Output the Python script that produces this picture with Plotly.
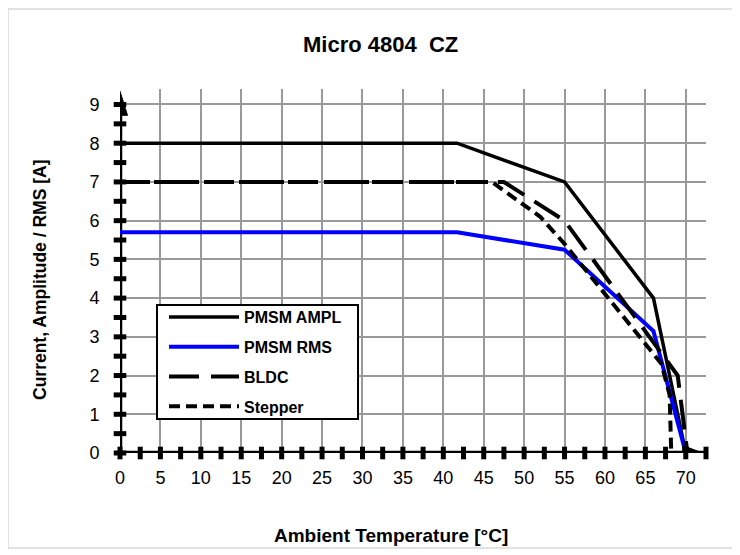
import plotly.graph_objects as go

# ---- data ----
temp_ampl = [0, 41.7, 55, 66, 70]
pmsm_ampl = [8, 8, 7, 4, 0]
temp_rms = [0, 41.7, 55, 66, 70]
pmsm_rms = [5.7, 5.7, 5.25, 3.15, 0]
temp_bldc = [0, 47.5, 55, 69, 70.2]
bldc = [7, 7, 6, 2, 0]
temp_stepper = [0, 46, 52, 55, 67, 68, 68.2]
stepper = [7, 7, 6.1, 5.4, 2.3, 1.5, 0]

x_ticks = [0, 5, 10, 15, 20, 25, 30, 35, 40, 45, 50, 55, 60, 65, 70]
y_ticks = [0, 1, 2, 3, 4, 5, 6, 7, 8, 9]
x_minor = [i * 2.5 for i in range(30)]   # axis tick marks 0 .. 72.5
y_minor = [i * 0.5 for i in range(19)]   # axis tick marks 0 .. 9

X_MAX = 72.5
Y_MAX = 9.4
Y_ARROW = 9.34
X_ARROW = 72.1

FONT = "Arial, Liberation Sans, sans-serif"

fig = go.Figure()

# axis tick marks (decoration on axis lines)
fig.add_trace(go.Scatter(x=x_minor, y=[0] * len(x_minor), mode="markers",
                         marker=dict(symbol="line-ns", size=9, line=dict(width=5, color="black")),
                         showlegend=False, hoverinfo="skip", cliponaxis=False))
fig.add_trace(go.Scatter(x=[0] * len(y_minor), y=y_minor, mode="markers",
                         marker=dict(symbol="line-ew", size=9, line=dict(width=5, color="black")),
                         showlegend=False, hoverinfo="skip", cliponaxis=False))

series = [
    ("PMSM AMPL", temp_ampl, pmsm_ampl, "black", 3.5, "solid"),
    ("PMSM RMS", temp_rms, pmsm_rms, "#0000FF", 4, "solid"),
    ("BLDC", temp_bldc, bldc, "black", 4, "30px,12px"),
    ("Stepper", temp_stepper, stepper, "black", 4, "11px,6px"),
]
for name, xs, ys, col, w, dash in series:
    fig.add_trace(go.Scatter(x=xs, y=ys, mode="lines", name=name, legendgroup=name,
                             line=dict(color=col, width=w, dash=dash), cliponaxis=False))

# page body has an 8px margin; plot area placed so it lands at
# screen x 120..706, y 89..453
OFF = 8
W, H = 740, 555
PL, PT = 120, 89
PW, PH = 586, 364

def px(xs):
    return (xs - PL) / PW

def py(ys):
    return (PT + PH - ys) / PH

shapes = [
    dict(type="line", xref="x", yref="y", x0=0, y0=0, x1=X_MAX, y1=0,
         line=dict(color="black", width=4.5), layer="between"),
    dict(type="line", xref="x", yref="y", x0=0, y0=0, x1=0, y1=Y_ARROW - 0.3,
         line=dict(color="black", width=4.5), layer="between"),
    dict(type="path", xref="x", yref="y", xsizemode="pixel", ysizemode="pixel",
         xanchor=0, yanchor=Y_ARROW, path="M0,0 L-7.5,-24 L7.5,-24 Z",
         fillcolor="black", line=dict(color="black", width=1), layer="above"),
    dict(type="path", xref="x", yref="y", xsizemode="pixel", ysizemode="pixel",
         xanchor=X_ARROW, yanchor=0, path="M0,0 L-20,7.5 L-20,-7.5 Z",
         fillcolor="black", line=dict(color="black", width=1), layer="above"),
    # legend box
    dict(type="rect", xref="paper", yref="paper",
         x0=px(157), x1=px(358), y0=py(419), y1=py(305),
         fillcolor="white", line=dict(color="black", width=2), layer="above"),
    # outer frame
    dict(type="rect", xref="paper", yref="paper",
         x0=px(8), x1=px(733), y0=py(548), y1=py(9),
         line=dict(color="#d9d9d9", width=1.5), layer="below"),
]

fig.update_layout(
    width=W, height=H,
    margin=dict(l=PL - OFF, r=W - (PL - OFF) - PW, t=PT - OFF, b=H - (PT - OFF) - PH),
    paper_bgcolor="white", plot_bgcolor="white",
    font=dict(family=FONT, color="black"),
    shapes=shapes,
    xaxis=dict(range=[0, X_MAX], tickvals=x_ticks, showgrid=True, gridcolor="#999999",
               gridwidth=1.5, zeroline=False, showline=False, ticks="outside",
               ticklen=8, tickcolor="rgba(0,0,0,0)", tickfont=dict(size=18)),
    yaxis=dict(range=[0, Y_MAX], tickvals=y_ticks, showgrid=True, gridcolor="#999999",
               gridwidth=1.5, zeroline=False, showline=False, ticks="outside",
               ticklen=16, tickcolor="rgba(0,0,0,0)", tickfont=dict(size=18)),
    legend=dict(x=px(164), y=py(300), xanchor="left", yanchor="top",
                bgcolor="rgba(0,0,0,0)", borderwidth=0,
                font=dict(size=16, weight="bold"), itemwidth=70, tracegroupgap=6),
    annotations=[
        dict(text="Micro 4804\u00a0 CZ", xref="paper", yref="paper",
             x=px(380), y=py(45), showarrow=False,
             xanchor="center", yanchor="middle", font=dict(size=22, weight="bold")),
        dict(text="Ambient Temperature [°C]", xref="paper", yref="paper",
             x=px(391), y=py(535), showarrow=False,
             xanchor="center", yanchor="middle", font=dict(size=19, weight="bold")),
        dict(text="Current, Amplitude / RMS [A]", xref="paper", yref="paper",
             x=px(40), y=py(280), showarrow=False, textangle=-90,
             xanchor="center", yanchor="middle", font=dict(size=17.5, weight="bold")),
    ],
)

fig.write_html("out.html")
